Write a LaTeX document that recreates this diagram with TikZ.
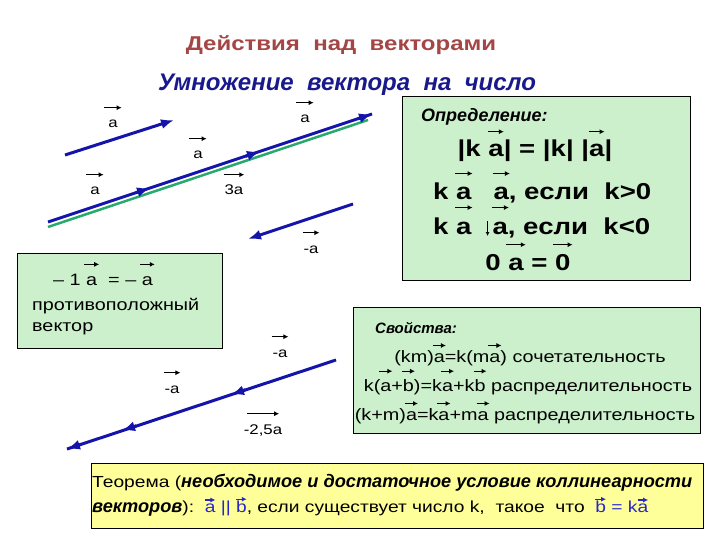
\documentclass[tikz,border=0pt]{standalone}
\usepackage{fontspec}
\setmainfont{Liberation Sans}[FakeStretch=1.2]
\newfontfamily\bifont{Liberation Sans}
\usetikzlibrary{arrows.meta,calc}
\definecolor{titlered}{RGB}{165,70,70}
\definecolor{navy}{RGB}{25,25,140}
\definecolor{vblue}{RGB}{20,20,170}
\definecolor{vgreen}{RGB}{40,170,110}
\definecolor{boxgreen}{RGB}{204,240,204}
\definecolor{boxyellow}{RGB}{255,255,153}
\definecolor{tblue}{RGB}{40,40,200}
\newcommand{\va}[3][3pt]{\tikz[baseline=(vt.base)]{\node[inner sep=0pt,outer sep=0pt](vt){#3};\draw[overlay,-{Latex[length=5pt,width=5pt]},line width=1.1pt] ([xshift=-#1,yshift=#2]vt.base west) -- ([xshift=#1,yshift=#2]vt.base east);}}
\newcommand{\downarr}{\tikz[baseline=0pt]{\draw[-{Latex[length=4pt,width=4pt]},line width=1.2pt] (0pt,13pt)--(0pt,-2pt);}}
\newcommand{\bi}[1]{{\bifont\bfseries\itshape #1}}
\tikzset{
  vline/.style={draw=vblue, line width=3pt},
  vtip/.style={draw=vblue, line width=3pt, -{Latex[length=13pt,width=10pt]}},
  gline/.style={draw=vgreen, line width=2.5pt},
  lbl/.style={font=\fontsize{14}{17}\selectfont, inner sep=0pt, anchor=base},
  txt/.style={font=\fontsize{16.5}{20}\selectfont, inner sep=0pt},
  big/.style={font=\bfseries\fontsize{23}{28}\selectfont, inner sep=0pt},
  ptxt/.style={font=\fontsize{16.5}{19}\selectfont, inner sep=0pt},
  ttxt/.style={font=\fontsize{16}{19}\selectfont, inner sep=0pt},
  gbox/.style={draw=black, fill=boxgreen, line width=0.8pt, inner sep=0pt, anchor=north west},
  ybox/.style={draw=black, fill=boxyellow, line width=0.8pt, inner sep=0pt, anchor=north west},
}
\begin{document}
\begin{tikzpicture}[x=1pt,y=-1pt]
\path[use as bounding box, fill=white] (0,0) rectangle (720,540);

% titles
\node[font=\bfseries\fontsize{20}{24}\selectfont, text=titlered] (title) at (341,45) {Действия\ \ над\ \ векторами};
\node[font=\bifont\bfseries\itshape\fontsize{24}{28}\selectfont, text=navy] (sub) at (347,85) {Умножение\ \ вектора\ \ на\ \ число};

% boxes
\node[gbox, minimum width=288pt, minimum height=184pt] (defbox) at (402,96) {};
\node[gbox, minimum width=205pt, minimum height=95pt] (lbox) at (17,253) {};
\node[gbox, minimum width=347pt, minimum height=126pt] (pbox) at (353,307) {};
\node[ybox, minimum width=612pt, minimum height=65pt] (tbox) at (91,463) {};

% vectors
\coordinate (v1s) at (65,155); \coordinate (v1e) at (174,120);
\draw[vtip] (v1s) -- (v1e);
\coordinate (g1) at (48,227); \coordinate (g2) at (368,120);
\draw[gline] (g1) -- (g2);
\coordinate (w0) at (48,222); \coordinate (w1) at (150,188);
\coordinate (w2) at (260,151.5); \coordinate (w3) at (372,114);
\draw[vline] (w0) -- (w3);
\draw[vtip] ($(w1)!15pt!(w0)$) -- (w1);
\draw[vtip] ($(w2)!15pt!(w1)$) -- (w2);
\draw[vtip] ($(w3)!15pt!(w2)$) -- (w3);
\coordinate (m0) at (353,204); \coordinate (m1) at (248,239);
\draw[vtip] (m0) -- (m1);
\coordinate (u0) at (336,360); \coordinate (u1) at (231,394.5);
\coordinate (u2) at (122,430.5); \coordinate (u3) at (67,449);
\draw[vline] (u0) -- (u3);
\draw[vtip] ($(u1)!15pt!(u0)$) -- (u1);
\draw[vtip] ($(u2)!15pt!(u1)$) -- (u2);
\draw[vtip] ($(u3)!15pt!(u2)$) -- (u3);

% vector labels
\node[lbl] (la1) at (113,128) {\va[4pt]{1.45em}{a}};
\node[lbl] (la2) at (305,123) {\va[4pt]{1.45em}{a}};
\node[lbl] (la3) at (198,159) {\va[4pt]{1.45em}{a}};
\node[lbl] (la4) at (95,195) {\va[4pt]{1.45em}{a}};
\node[lbl] (l3a) at (234,195) {\va[1pt]{1.45em}{3a}};
\node[lbl] (lma1) at (311,253) {\va[1pt]{1.45em}{-a}};
\node[lbl] (lma2) at (280,357) {\va[1pt]{1.45em}{-a}};
\node[lbl] (lma3) at (172,393) {\va[1pt]{1.45em}{-a}};
\node[lbl] (l25) at (263,434) {\va[-3pt]{1.45em}{-2,5a}};

% left box text
\node[txt, anchor=base west] (lt1) at (53,285) {– 1 \va[2pt]{1.25em}{a}\ \ = – \va[2pt]{1.25em}{a}};
\node[txt, anchor=base west] (lt2) at (32,310) {противоположный};
\node[txt, anchor=base west] (lt3) at (32,331) {вектор};

% definition box text
\node[font=\fontsize{18}{21}\selectfont, inner sep=0pt, anchor=base west] (dh) at (421,122) {\bi{Определение:}};
\node[big, anchor=base] (d1) at (535,157) {|k \va[0pt]{1.1em}{a}| = |k| |\va[0pt]{1.1em}{a}|};
\node[big, anchor=base west] (d2) at (433,200) {k \va[1pt]{1.15em}{a}\hspace{22pt}\va[1pt]{1.15em}{a}, если\ \ k>0};
\node[big, anchor=base west] (d3) at (433,234) {k \va[1pt]{1.15em}{a}\hspace{14pt}\downarr\hspace{3pt}\va[1pt]{1.15em}{a}, если\ \ k<0};
\node[big, anchor=base] (d4) at (528,270) {0 \va[2pt]{1.1em}{a} = \va[2pt]{1.1em}{0}};

% properties box text
\node[font=\fontsize{15}{17}\selectfont, inner sep=0pt, anchor=base west] (ph) at (375,333) {\bi{Свойства:}};
\node[ptxt, anchor=base] (p1) at (530,362) {(km)\va[1pt]{1em}{a}=k(m\va[1pt]{1em}{a}) сочетательность};
\node[ptxt, anchor=base] (p2) at (528,391) {k(\va[1pt]{1.2em}{a}+\va[1pt]{1.2em}{b})=k\va[1pt]{1.2em}{a}+k\va[1pt]{1.2em}{b} распределительность};
\node[ptxt, anchor=base] (p3) at (525,420) {(k+m)\va[1pt]{1em}{a}=k\va[1pt]{1em}{a}+m\va[1pt]{1em}{a} распределительность};

% theorem box text
\node[ttxt, anchor=base west] (th1) at (92,487) {Теорема (\bi{\fontsize{18.2}{19}\selectfont необходимое и достаточное условие коллинеарности}};
\node[ttxt, anchor=base west] (th2) at (92,512) {\bi{\fontsize{18.2}{19}\selectfont векторов}):\ \ \textcolor{tblue}{\va[0pt]{0.75em}{a} || \va[0pt]{0.8em}{b}}, если существует число k,\ \ такое\ \ что\ \ \textcolor{tblue}{\va[0pt]{0.8em}{b} = k\va[0pt]{0.75em}{a}}};
\end{tikzpicture}
\end{document}
